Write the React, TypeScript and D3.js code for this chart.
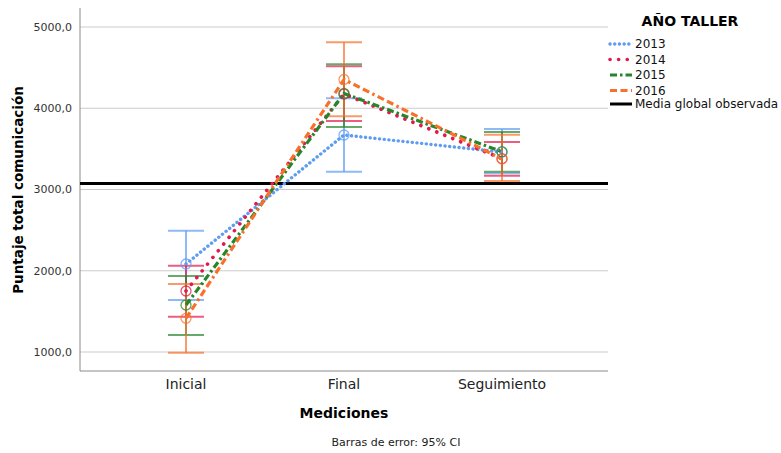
import React from 'react';
import * as d3 from 'd3';

const categories = ['Inicial', 'Final', 'Seguimiento'];
const years = ['2013', '2014', '2015', '2016'];

// means and 95% CI per year (Inicial, Final, Seguimiento)
const means2013 = [2083, 3671, 3460];
const lower2013 = [1640, 3219, 3199];
const upper2013 = [2493, 4124, 3745];

const means2014 = [1751, 4174, 3380];
const lower2014 = [1435, 3843, 3170];
const upper2014 = [2062, 4518, 3585];

const means2015 = [1578, 4182, 3465];
const lower2015 = [1209, 3770, 3219];
const upper2015 = [1935, 4542, 3708];

const means2016 = [1415, 4354, 3375];
const lower2016 = [991, 3903, 3105];
const upper2016 = [1837, 4813, 3675];

const globalMean = 3074;
const yTicks = [1000, 2000, 3000, 4000, 5000];

const seriesList = [
  { year: years[0], means: means2013, lower: lower2013, upper: upper2013, color: '#5e9cf2', dash: '0.1 4.6', cap: 'round', width: 3.4 },
  { year: years[1], means: means2014, lower: lower2014, upper: upper2014, color: '#e2194d', dash: '0.1 8.5', cap: 'round', width: 3.6 },
  { year: years[2], means: means2015, lower: lower2015, upper: upper2015, color: '#27862c', dash: '7 3 2.5 3', cap: 'butt', width: 3.2 },
  { year: years[3], means: means2016, lower: lower2016, upper: upper2016, color: '#f7712c', dash: '7 3.5 7 3.5 2.5 3.5', cap: 'butt', width: 3.2 },
];

const font = '"DejaVu Sans", Verdana, sans-serif';

export default function App() {
  const left = 80, right = 608, top = 8, bottom = 371;
  const y = d3.scaleLinear().domain([1000, 5000]).range([352, 27]);
  const x = d3.scalePoint<string>().domain(categories).range([186, 502]);
  const fmt = (v: number) => d3.format('.1f')(v).replace('.', ',');
  const capHalf = 18;

  const line = d3.line<number>()
    .x((_, i) => x(categories[i]) as number)
    .y(d => y(d));

  return (
    <svg width={781} height={453} style={{ position: 'absolute', left: 0, top: 0, background: '#fff' }} fontFamily={font}>
      {/* gridlines */}
      {yTicks.map(t => (
        <line key={t} x1={left} x2={right} y1={y(t)} y2={y(t)} stroke="#cbcbcb" strokeWidth={1} />
      ))}
      {/* frame */}
      <line x1={left} x2={left} y1={top} y2={bottom} stroke="#8a8a8a" strokeWidth={1} />
      <line x1={left} x2={right} y1={bottom} y2={bottom} stroke="#8a8a8a" strokeWidth={1} />
      {yTicks.map(t => (
        <text key={t} x={left - 8} y={y(t)} dy="0.35em" textAnchor="end" fontSize={11} fill="#333">{fmt(t)}</text>
      ))}
      {categories.map(c => (
        <text key={c} x={x(c)} y={384} dy="0.35em" textAnchor="middle" fontSize={14} fill="#222">{c}</text>
      ))}

      {/* global mean */}
      <line x1={left} x2={right} y1={y(globalMean)} y2={y(globalMean)} stroke="#000" strokeWidth={3} />

      {/* error bars */}
      {seriesList.map(s => (
        <g key={'eb' + s.year} stroke={s.color} strokeOpacity={0.7} strokeWidth={2}>
          {categories.map((c, i) => {
            const cx = x(c) as number;
            return (
              <g key={c}>
                <line x1={cx} x2={cx} y1={y(s.lower[i])} y2={y(s.upper[i])} />
                <line x1={cx - capHalf} x2={cx + capHalf} y1={y(s.upper[i])} y2={y(s.upper[i])} />
                <line x1={cx - capHalf} x2={cx + capHalf} y1={y(s.lower[i])} y2={y(s.lower[i])} />
              </g>
            );
          })}
        </g>
      ))}

      {/* lines */}
      {seriesList.map(s => (
        <path key={'l' + s.year} d={line(s.means) || ''} fill="none" stroke={s.color}
          strokeWidth={s.width} strokeDasharray={s.dash} strokeLinecap={s.cap as any} />
      ))}

      {/* markers */}
      {seriesList.map(s => (
        <g key={'m' + s.year}>
          {categories.map((c, i) => (
            <circle key={c} cx={x(c)} cy={y(s.means[i])} r={5} fill="none" stroke={s.color} strokeOpacity={0.75} strokeWidth={1.3} />
          ))}
        </g>
      ))}

      {/* axis titles */}
      <text transform="translate(23,190) rotate(-90)" textAnchor="middle" fontSize={13.5} fontWeight="bold" fill="#000">Puntaje total comunicación</text>
      <text x={344} y={413} dy="0.35em" textAnchor="middle" fontSize={14} fontWeight="bold" fill="#000">Mediciones</text>
      <text x={396} y={442} dy="0.35em" textAnchor="middle" fontSize={11} fill="#222">Barras de error: 95% CI</text>

      {/* legend */}
      <text x={690} y={21} dy="0.35em" textAnchor="middle" fontSize={14} fontWeight="bold" fill="#000">AÑO TALLER</text>
      {seriesList.map((s, i) => {
        const ly = 44 + i * 15.5;
        return (
          <g key={'lg' + s.year}>
            <line x1={610} x2={632} y1={ly} y2={ly} stroke={s.color} strokeWidth={s.width}
              strokeDasharray={s.dash} strokeLinecap={s.cap as any} />
            <text x={635} y={ly} dy="0.35em" fontSize={12} fill="#111">{s.year}</text>
          </g>
        );
      })}
      <line x1={610} x2={632} y1={104} y2={104} stroke="#000" strokeWidth={3} />
      <text x={635} y={104} dy="0.35em" fontSize={12} fill="#111">Media global observada</text>
    </svg>
  );
}
